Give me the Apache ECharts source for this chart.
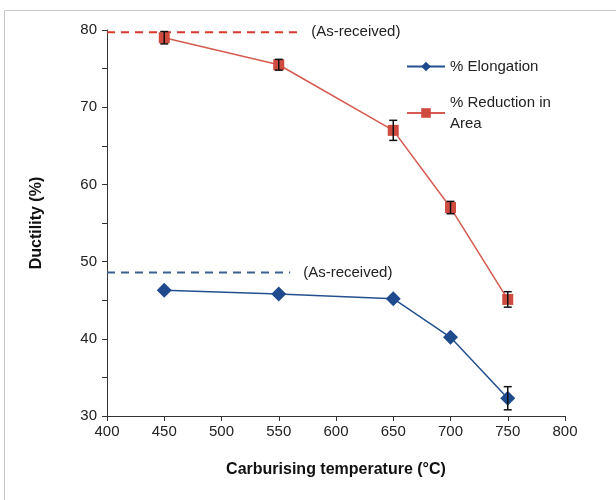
<!DOCTYPE html>
<html>
<head>
<meta charset="utf-8">
<script src="https://cdn.jsdelivr.net/npm/echarts@6/dist/echarts.min.js"></script>
<style>
  html, body { margin: 0; padding: 0; background: #fff; }
  #chart { width: 616px; height: 500px; }
</style>
</head>
<body>
<div id="chart"></div>
<script>
// data
const temps = [450, 550, 650, 700, 750];
const elongation = [46.3, 45.8, 45.2, 40.2, 32.3];
const elongationErr = [0, 0, 0, 0, 1.5];
const reduction = [79.0, 75.5, 67.0, 57.0, 45.1];
const reductionErr = [0.8, 0.7, 1.3, 0.8, 1.0];
const asReceivedElong = 48.6;
const asReceivedRed = 79.7;
const asReceivedElongEnd = 560;
const asReceivedRedEnd = 567;

const pts = (ys) => temps.map((t, i) => [t, ys[i]]);
const errPts = (ys, es) =>
  temps.map((t, i) => [t, ys[i] - es[i], ys[i] + es[i]]).filter((d, i) => es[i] > 0);

const errorBars = (data) => ({
  type: "custom",
  z: 5,
  silent: true,
  data: data,
  renderItem: (params, api) => {
    const lo = api.coord([api.value(0), api.value(1)]);
    const hi = api.coord([api.value(0), api.value(2)]);
    const w = 4;
    const st = { stroke: "#111", lineWidth: 1.5 };
    return {
      type: "group",
      children: [
        { type: "line", shape: { x1: lo[0], y1: lo[1], x2: hi[0], y2: hi[1] }, style: st },
        { type: "line", shape: { x1: lo[0] - w, y1: lo[1], x2: lo[0] + w, y2: lo[1] }, style: st },
        { type: "line", shape: { x1: hi[0] - w, y1: hi[1], x2: hi[0] + w, y2: hi[1] }, style: st },
      ],
    };
  },
});

const asLabel = {
  show: true,
  distance: 13,
  formatter: "(As-received)",
  color: "#222",
  fontSize: 15,
  fontFamily: "Liberation Sans",
};

const chart = echarts.init(document.getElementById("chart"));
chart.setOption({
  animation: false,
  textStyle: { fontFamily: "Liberation Sans" },
  graphic: [
    {
      type: "rect",
      shape: { x: 4.5, y: 10.5, width: 640, height: 520 },
      style: { fill: "none", stroke: "#c8c8c8", lineWidth: 1 },
      z: -1,
    },
  ],
  grid: { left: 107, right: 51, top: 30, bottom: 84 },
  legend: {
    orient: "vertical",
    left: 401,
    top: 51,
    itemWidth: 38,
    itemHeight: 12,
    itemGap: 15,
    textStyle: { fontSize: 15, color: "#222", lineHeight: 21 },
    data: ["% Elongation", "% Reduction in Area"],
    formatter: (name) => (name === "% Reduction in Area" ? "% Reduction in\nArea" : name),
  },
  xAxis: {
    type: "value",
    min: 400,
    max: 800,
    interval: 50,
    name: "Carburising temperature (°C)",
    nameLocation: "middle",
    nameGap: 46,
    nameTextStyle: { fontSize: 16, fontWeight: "bold", color: "#111" },
    axisLine: { lineStyle: { color: "#333", width: 1 } },
    axisTick: { show: true, inside: false, length: 5, lineStyle: { color: "#333" } },
    axisLabel: { fontSize: 15, color: "#222", margin: 8 },
    splitLine: { show: false },
  },
  yAxis: {
    type: "value",
    min: 30,
    max: 80,
    interval: 5,
    name: "Ductility (%)",
    nameLocation: "middle",
    nameGap: 62,
    nameTextStyle: { fontSize: 16, fontWeight: "bold", color: "#111" },
    axisLine: { show: true, lineStyle: { color: "#333", width: 1 } },
    axisTick: { show: true, inside: false, length: 5, lineStyle: { color: "#333" } },
    axisLabel: {
      fontSize: 15,
      color: "#222",
      margin: 10,
      formatter: (v) => (v % 10 === 0 ? String(v) : ""),
    },
    splitLine: { show: false },
  },
  series: [
    {
      name: "as-received red",
      type: "line",
      symbol: "none",
      data: [[400, asReceivedRed], [asReceivedRedEnd, asReceivedRed]],
      lineStyle: { color: "#d8392f", width: 2, type: [8, 6] },
      endLabel: asLabel,
      silent: true,
    },
    {
      name: "as-received blue",
      type: "line",
      symbol: "none",
      data: [[400, asReceivedElong], [asReceivedElongEnd, asReceivedElong]],
      lineStyle: { color: "#3f5f90", width: 2, type: [8, 6] },
      endLabel: asLabel,
      silent: true,
    },
    {
      name: "% Elongation",
      type: "line",
      data: pts(elongation),
      symbol: "diamond",
      symbolSize: 15,
      itemStyle: { color: "#1f4a8e" },
      lineStyle: { color: "#24508f", width: 1.5 },
      z: 3,
    },
    {
      name: "% Reduction in Area",
      type: "line",
      data: pts(reduction),
      symbol: "rect",
      symbolSize: 11,
      itemStyle: { color: "#cf4a3f" },
      lineStyle: { color: "#d55a4f", width: 1.5 },
      z: 3,
    },
    errorBars(errPts(elongation, elongationErr)),
    errorBars(errPts(reduction, reductionErr)),
  ],
});
</script>
</body>
</html>
